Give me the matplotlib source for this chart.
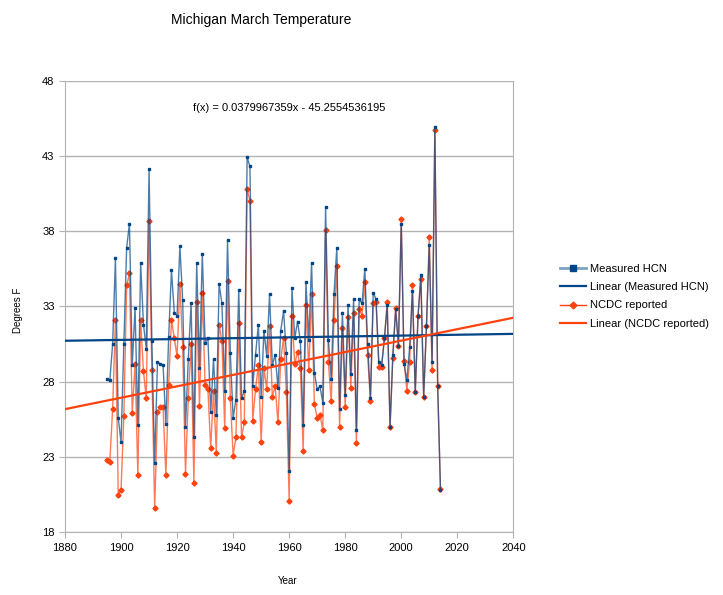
import numpy as np
import matplotlib
matplotlib.use("Agg")
import matplotlib.pyplot as plt

plt.rcParams['font.family'] = ['Liberation Sans', 'DejaVu Sans']

years = list(range(1895, 2015))

hcn = [28.2, 28.1, 30.5, 36.2, 25.6, 24.0, 30.5, 36.9, 38.5, 29.1,
       32.9, 25.1, 35.9, 31.8, 30.2, 42.1, 30.7, 22.6, 29.3, 29.2,
       29.1, 25.2, 31.0, 35.4, 32.6, 32.4, 37.0, 33.4, 25.0, 29.5,
       33.2, 24.3, 35.9, 28.9, 36.5, 30.6, 30.9, 26.0, 29.5, 25.8,
       34.5, 33.2, 27.4, 37.4, 29.9, 25.6, 26.8, 34.1, 26.9, 27.4,
       42.9, 42.3, 27.7, 29.8, 31.8, 27.0, 31.4, 29.7, 33.8, 29.1,
       29.8, 27.6, 31.4, 32.7, 29.9, 22.1, 34.2, 30.9, 32.0, 30.7,
       25.1, 34.6, 30.8, 35.9, 28.6, 27.5, 27.7, 26.6, 39.6, 30.8,
       28.2, 33.8, 36.9, 26.2, 32.6, 27.1, 33.1, 28.5, 33.5, 24.8,
       33.5, 33.2, 35.5, 30.5, 26.9, 33.9, 33.5, 29.3, 29.1, 30.9,
       33.1, 25.0, 29.8, 32.8, 30.4, 38.5, 29.2, 28.1, 30.3, 34.0,
       27.3, 32.4, 35.1, 27.0, 31.7, 37.1, 29.3, 44.9, 27.7, 20.8]

ncdc = [22.8, 22.7, 26.2, 32.1, 20.5, 20.8, 25.7, 34.4, 35.2, 25.9,
        29.2, 21.8, 32.1, 28.7, 26.9, 38.7, 28.8, 19.6, 26.0, 26.3,
        26.3, 21.8, 27.8, 32.1, 30.9, 29.7, 34.5, 30.3, 21.9, 26.9,
        30.5, 21.3, 33.3, 26.4, 33.9, 27.8, 27.5, 23.6, 27.4, 23.3,
        31.8, 30.7, 24.9, 34.7, 26.9, 23.1, 24.3, 31.9, 24.3, 25.3,
        40.8, 40.0, 25.4, 27.5, 29.1, 24.0, 28.9, 27.5, 31.7, 27.0,
        27.7, 25.3, 29.5, 30.9, 27.3, 20.1, 32.4, 29.2, 30.0, 28.9,
        23.4, 33.1, 28.8, 33.8, 26.5, 25.6, 25.8, 24.8, 38.1, 29.3,
        26.7, 32.1, 35.7, 25.0, 31.6, 26.3, 32.3, 27.6, 32.6, 23.9,
        32.8, 32.4, 34.6, 29.8, 26.7, 33.2, 33.3, 29.0, 29.0, 30.9,
        33.3, 25.0, 29.6, 32.9, 30.4, 38.8, 29.4, 27.4, 29.3, 34.4,
        27.3, 32.4, 34.8, 27.0, 31.7, 37.6, 28.8, 44.7, 27.7, 20.9]

x_ticks = [1880, 1900, 1920, 1940, 1960, 1980, 2000, 2020, 2040]
y_ticks = [18, 23, 28, 33, 38, 43, 48]

blue = "#004586"
orange = "#ff420e"
grey = "#b3b3b3"

fig = plt.figure(figsize=(7.23, 5.95), dpi=100)
ax = fig.add_axes([0.0899, 0.1054, 0.6201, 0.759])

# trend lines over the whole axis range
xx = np.array([1880, 2040])
p_hcn = np.polyfit(years, hcn, 1)
p_ncdc = np.polyfit(years, ncdc, 1)

ax.plot(years, ncdc, color=orange, lw=1, alpha=0.7, zorder=3)
ax.plot(years, ncdc, ls="none", marker="D", ms=2.6, color=orange, zorder=4)
ax.plot(years, hcn, color=blue, lw=1, alpha=0.7, zorder=5)
ax.plot(years, hcn, ls="none", marker="s", ms=2.0, color=blue, zorder=6)
ax.plot(xx, np.polyval(p_hcn, xx), color=blue, lw=1.6, zorder=7)
ax.plot(xx, np.polyval(p_ncdc, xx), color=orange, lw=1.6, zorder=7)

ax.set_xlim(1880, 2040)
ax.set_ylim(18, 48)
ax.set_xticks(x_ticks)
ax.set_yticks(y_ticks)
ax.yaxis.grid(True, color=grey, lw=1)
ax.set_axisbelow(True)
for s in ax.spines.values():
    s.set_color(grey)
ax.spines['top'].set_visible(False)
ax.tick_params(colors=grey, labelcolor="black", labelsize=8, length=4)

ax.text(0.5, 0.94, "f(x) = 0.0379967359x - 45.2554536195", transform=ax.transAxes,
        ha="center", va="center", fontsize=8)

fig.text(0.361, 0.966, "Michigan March Temperature", ha="center", va="center", fontsize=10)
fig.text(0.025, 0.478, "Degrees F", rotation=90, ha="center", va="center", fontsize=7)
fig.text(0.398, 0.024, "Year", ha="center", va="center", fontsize=7)

# legend
h1, = plt.plot([], [], color="#7fa2c2", lw=2, marker="s", ms=5, mfc=blue, mec=blue)
h2, = plt.plot([], [], color=blue, lw=1.6)
h3, = plt.plot([], [], color=orange, lw=1, marker="D", ms=3.5)
h4, = plt.plot([], [], color=orange, lw=1.6)
fig.legend([h1, h2, h3, h4],
           ["Measured HCN", "Linear (Measured HCN)", "NCDC reported", "Linear (NCDC reported)"],
           loc="center left", bbox_to_anchor=(0.768, 0.502), frameon=False, fontsize=8,
           handlelength=2.4, handletextpad=0.3, labelspacing=0.75, borderaxespad=0)

fig.savefig("out.png", dpi=100)
